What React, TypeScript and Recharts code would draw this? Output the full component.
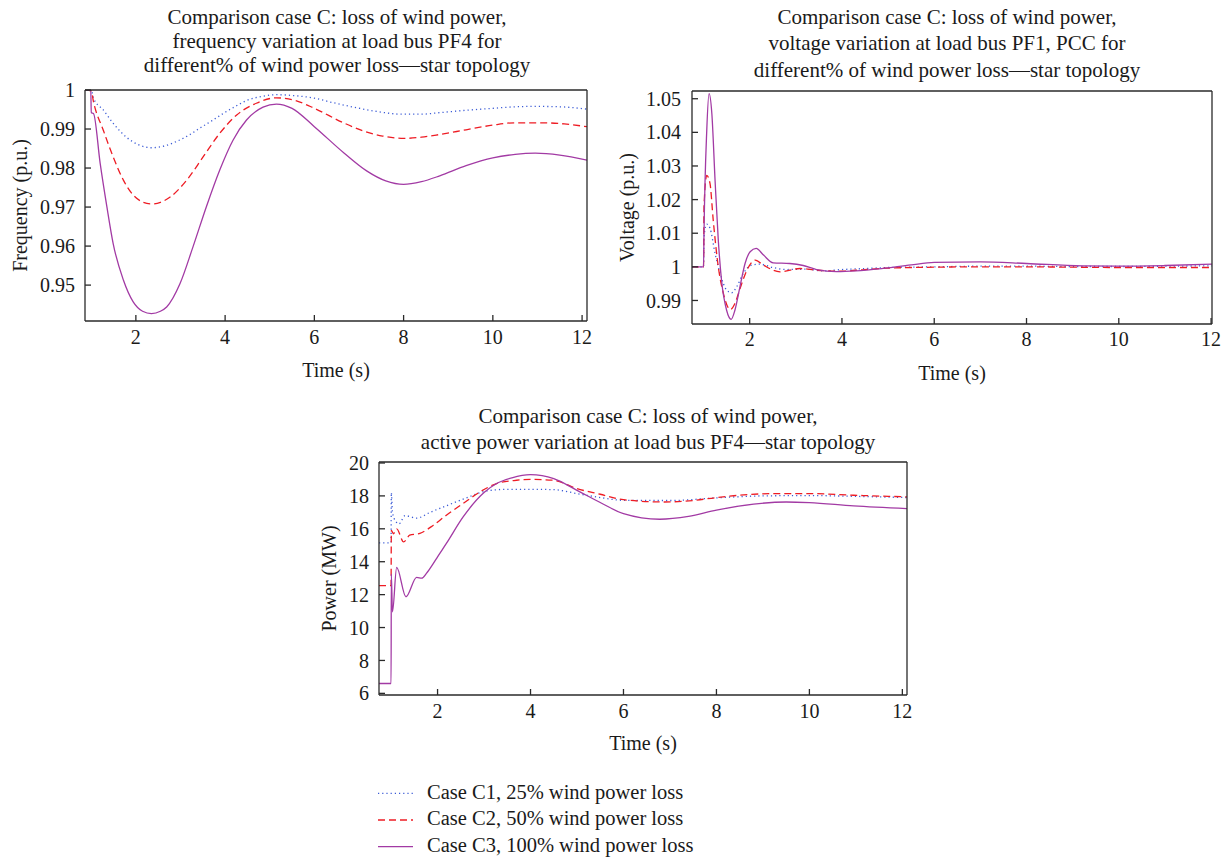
import { Line, LineChart, XAxis, YAxis } from 'recharts'

const FONT = "'Liberation Serif', 'Times New Roman', serif"
const INK = '#1a1a1a'
const AXIS = '#2a2a2a'

const timeTicks = [2, 4, 6, 8, 10, 12]
const freqTicks = [0.95, 0.96, 0.97, 0.98, 0.99, 1]
const voltTicks = [0.99, 1, 1.01, 1.02, 1.03, 1.04, 1.05]
const powerTicks = [6, 8, 10, 12, 14, 16, 18, 20]

const caseNames = ['Case C1, 25% wind power loss', 'Case C2, 50% wind power loss', 'Case C3, 100% wind power loss']
const caseColors = ['#3b5bd6', '#ee1c24', '#a23aa4']
const caseDash = ['1.2 3', '7 4', undefined]

// frequency at load bus PF4
const freqT1 = [0.86, 1.0, 1.05, 1.27, 1.49, 1.79, 2.05, 2.35, 2.65, 2.91, 3.2, 3.43, 3.7, 3.96, 4.2, 4.48, 4.8, 5.15, 5.5, 6.0, 6.4, 6.84, 7.4, 7.96, 8.4, 8.81, 9.4, 10.0, 10.5, 10.95, 11.5, 12.11]
const freqC1 = [1.0, 0.9999, 0.9979, 0.9949, 0.9915, 0.9879, 0.986, 0.9852, 0.9857, 0.9868, 0.9885, 0.9902, 0.9921, 0.994, 0.9956, 0.9973, 0.9983, 0.9988, 0.9986, 0.9979, 0.9968, 0.9957, 0.9945, 0.9938, 0.9938, 0.9942, 0.9948, 0.9953, 0.9957, 0.9958, 0.9957, 0.9951]
const freqT2 = [0.86, 1.0, 1.05, 1.27, 1.49, 1.72, 1.94, 2.15, 2.35, 2.55, 2.76, 3.14, 3.51, 3.88, 4.26, 4.7, 5.15, 5.6, 6.0, 6.67, 7.1, 7.53, 8.0, 8.4, 8.81, 9.4, 10.0, 10.5, 11.1, 11.6, 12.11]
const freqC2 = [1.0, 0.9998, 0.997, 0.9897, 0.9829, 0.9769, 0.9731, 0.9713, 0.9708, 0.9712, 0.9725, 0.9769, 0.9829, 0.9889, 0.9936, 0.9966, 0.998, 0.9972, 0.9953, 0.9915, 0.9895, 0.9882, 0.9876, 0.9879, 0.9886, 0.9898, 0.991, 0.9916, 0.9916, 0.9913, 0.9906]
const freqT3 = [0.86, 0.99, 1.0, 1.05, 1.2, 1.35, 1.49, 1.72, 1.94, 2.15, 2.35, 2.55, 2.69, 2.99, 3.28, 3.58, 3.88, 4.18, 4.48, 4.85, 5.15, 5.5, 6.0, 6.67, 7.18, 7.6, 8.0, 8.4, 8.81, 9.4, 10.0, 10.5, 10.95, 11.5, 12.11]
const freqC3 = [1.0, 1.0, 0.9942, 0.994, 0.9812, 0.9701, 0.9607, 0.9513, 0.9457, 0.9433, 0.9427, 0.9433, 0.9444, 0.9504, 0.9598, 0.9701, 0.9795, 0.9872, 0.9923, 0.9956, 0.9964, 0.9953, 0.9906, 0.9838, 0.9792, 0.9767, 0.9758, 0.9765, 0.978, 0.9806, 0.9826, 0.9835, 0.9838, 0.9833, 0.982]

// voltage at load bus PF1, PCC
const voltT1 = [0.75, 1.0, 1.01, 1.07, 1.14, 1.25, 1.36, 1.5, 1.61, 1.72, 1.86, 2.04, 2.22, 2.5, 2.8, 3.2, 3.6, 4.0, 4.5, 5.0, 6.0, 7.0, 8.0, 9.0, 10.0, 11.0, 12.02]
const voltC1 = [1.0, 1.0, 1.009, 1.0127, 1.0115, 1.004, 0.998, 0.9931, 0.9923, 0.9941, 0.998, 1.0005, 1.0008, 0.9998, 0.9992, 0.9993, 0.9988, 0.9992, 0.9995, 0.9998, 1.0, 1.0002, 1.0002, 1.0001, 1.0001, 1.0002, 1.0003]
const voltT2 = [0.75, 1.0, 1.01, 1.07, 1.14, 1.21, 1.32, 1.43, 1.58, 1.68, 1.79, 1.94, 2.12, 2.3, 2.66, 3.09, 3.45, 3.99, 4.5, 5.0, 6.0, 7.0, 8.0, 9.0, 10.0, 11.0, 12.02]
const voltC2 = [1.0, 1.0, 1.018, 1.0272, 1.0248, 1.0139, 1.0, 0.9921, 0.9873, 0.9891, 0.9935, 0.999, 1.002, 1.0005, 0.9985, 0.9995, 0.999, 0.9987, 0.9992, 0.9996, 0.9999, 1.0, 1.0, 0.9999, 0.9998, 0.9998, 0.9998]
const voltT3 = [0.75, 1.0, 1.01, 1.07, 1.12, 1.18, 1.25, 1.32, 1.39, 1.5, 1.6, 1.68, 1.79, 1.9, 2.01, 2.14, 2.3, 2.51, 2.87, 3.16, 3.45, 3.88, 4.3, 4.86, 5.5, 6.0, 7.0, 8.0, 9.2, 10.0, 11.0, 12.02]
const voltC3 = [1.0, 1.0, 1.0099, 1.0406, 1.0515, 1.0456, 1.0257, 1.0079, 0.996, 0.9871, 0.9844, 0.9871, 0.9941, 1.001, 1.0045, 1.0055, 1.0035, 1.0012, 1.001, 1.0004, 0.9992, 0.9986, 0.9988, 0.9995, 1.0006, 1.0013, 1.0015, 1.001, 1.0003, 1.0002, 1.0004, 1.0008]

// active power at load bus PF4
const powT1 = [0.74, 1.0, 1.005, 1.03, 1.1, 1.17, 1.3, 1.55, 1.84, 2.19, 2.55, 3.06, 3.5, 4.0, 4.5, 5.0, 5.5, 6.0, 7.0, 8.0, 9.0, 10.0, 11.0, 12.1]
const powC1 = [15.15, 15.15, 18.2, 17.0, 16.45, 16.3, 16.8, 16.65, 17.0, 17.4, 17.8, 18.3, 18.4, 18.4, 18.38, 18.14, 17.9, 17.73, 17.72, 17.88, 18.0, 18.02, 17.97, 17.9]
const powT2 = [0.74, 1.0, 1.005, 1.05, 1.12, 1.27, 1.4, 1.62, 1.91, 2.19, 2.55, 2.91, 3.27, 3.7, 4.0, 4.49, 5.0, 5.5, 6.0, 6.87, 7.5, 8.0, 9.25, 10.0, 10.95, 12.1]
const powC2 = [12.55, 12.55, 15.9, 15.7, 16.0, 15.2, 15.61, 15.72, 16.22, 16.83, 17.54, 18.24, 18.75, 18.95, 19.0, 18.95, 18.44, 18.1, 17.77, 17.63, 17.72, 17.9, 18.14, 18.14, 18.04, 17.94]
const powT3 = [0.74, 1.0, 1.005, 1.03, 1.12, 1.32, 1.55, 1.66, 1.76, 1.91, 2.0, 2.19, 2.55, 3.0, 3.27, 3.6, 4.0, 4.5, 5.0, 5.5, 6.0, 6.78, 7.4, 8.0, 8.8, 9.5, 10.0, 10.95, 12.1]
const powC3 = [6.6, 6.6, 13.25, 10.96, 13.65, 11.87, 13.05, 13.0, 13.29, 13.9, 14.3, 15.11, 16.72, 18.2, 18.75, 19.1, 19.29, 19.05, 18.34, 17.6, 16.92, 16.58, 16.75, 17.13, 17.5, 17.63, 17.59, 17.39, 17.23]

const zip = (t: number[], v: number[]) => t.map((x, i) => ({ t: x, v: v[i] }))

type PanelProps = {
  left: number
  top: number
  width: number
  height: number
  margin: { top: number; right: number; bottom: number; left: number }
  yWidth: number
  xHeight: number
  xDomain: [number, number]
  yDomain: [number, number]
  yTicks: number[]
  xTickMargin: number
  yTickMargin: number
  yLabel: string
  yLabelOffset: number
  xLabelOffset: number
  series: { t: number[]; v: number[] }[]
}

const textStyle = { fill: INK, fontSize: 20, fontFamily: FONT }

function Panel(p: PanelProps) {
  return (
    <div style={{ position: 'absolute', left: p.left, top: p.top }}>
      <LineChart width={p.width} height={p.height} margin={p.margin}>
        <XAxis
          xAxisId="b"
          type="number"
          dataKey="t"
          domain={p.xDomain}
          allowDataOverflow
          ticks={timeTicks}
          interval={0}
          tickSize={-6}
          tickMargin={p.xTickMargin}
          height={p.xHeight}
          stroke={AXIS}
          strokeWidth={1.3}
          tick={textStyle}
          label={{ value: 'Time (s)', position: 'insideBottom', offset: p.xLabelOffset, ...textStyle }}
        />
        <XAxis
          xAxisId="t"
          orientation="top"
          type="number"
          dataKey="t"
          domain={p.xDomain}
          allowDataOverflow
          ticks={timeTicks}
          interval={0}
          tickSize={-6}
          tick={false}
          height={1}
          stroke={AXIS}
          strokeWidth={1.3}
        />
        <YAxis
          yAxisId="l"
          type="number"
          domain={p.yDomain}
          allowDataOverflow
          ticks={p.yTicks}
          interval={0}
          tickSize={-6}
          tickMargin={p.yTickMargin}
          width={p.yWidth}
          stroke={AXIS}
          strokeWidth={1.3}
          tick={textStyle}
          label={{
            value: p.yLabel,
            angle: -90,
            position: 'insideLeft',
            offset: p.yLabelOffset,
            style: { textAnchor: 'middle' },
            ...textStyle,
          }}
        />
        <YAxis
          yAxisId="r"
          orientation="right"
          type="number"
          domain={p.yDomain}
          allowDataOverflow
          ticks={p.yTicks}
          interval={0}
          tickSize={-6}
          tick={false}
          width={1}
          stroke={AXIS}
          strokeWidth={1.3}
        />
        {p.series.map((s, i) => (
          <Line
            key={caseNames[i]}
            xAxisId="b"
            yAxisId="l"
            data={zip(s.t, s.v)}
            dataKey="v"
            type="monotone"
            stroke={caseColors[i]}
            strokeWidth={1.3}
            strokeDasharray={caseDash[i]}
            dot={false}
            activeDot={false}
            isAnimationActive={false}
          />
        ))}
      </LineChart>
    </div>
  )
}

function Title({ lines, center, top, lineHeight }: { lines: string[]; center: number; top: number; lineHeight: number }) {
  return (
    <div
      style={{
        position: 'absolute',
        left: center - 300,
        width: 600,
        top,
        textAlign: 'center',
        fontFamily: FONT,
        fontSize: 21,
        lineHeight: `${lineHeight}px`,
        color: INK,
        whiteSpace: 'nowrap',
      }}
    >
      {lines.map((l) => (
        <div key={l}>{l}</div>
      ))}
    </div>
  )
}

export default function App() {
  return (
    <div style={{ position: 'absolute', left: 0, top: 0, width: 1231, height: 865, background: '#fff' }}>
      <Panel
        left={0}
        top={0}
        width={600}
        height={390}
        margin={{ top: 89, right: 12, bottom: 0, left: 0 }}
        yWidth={85}
        xHeight={69}
        xDomain={[0.86, 12.11]}
        yDomain={[0.9408, 1.0]}
        yTicks={freqTicks}
        xTickMargin={15}
        yTickMargin={16}
        yLabel="Frequency (p.u.)"
        yLabelOffset={20}
        xLabelOffset={13}
        series={[
          { t: freqT1, v: freqC1 },
          { t: freqT2, v: freqC2 },
          { t: freqT3, v: freqC3 },
        ]}
      />
      <Panel
        left={600}
        top={0}
        width={631}
        height={390}
        margin={{ top: 90, right: 18, bottom: 0, left: 0 }}
        yWidth={92}
        xHeight={66}
        xDomain={[0.75, 12.02]}
        yDomain={[0.983, 1.0523]}
        yTicks={voltTicks}
        xTickMargin={14}
        yTickMargin={17}
        yLabel="Voltage (p.u.)"
        yLabelOffset={27}
        xLabelOffset={10}
        series={[
          { t: voltT1, v: voltC1 },
          { t: voltT2, v: voltC2 },
          { t: voltT3, v: voltC3 },
        ]}
      />
      <Panel
        left={300}
        top={400}
        width={620}
        height={365}
        margin={{ top: 61, right: 12, bottom: 0, left: 0 }}
        yWidth={79}
        xHeight={70}
        xDomain={[0.74, 12.1]}
        yDomain={[5.9, 20.06]}
        yTicks={powerTicks}
        xTickMargin={15}
        yTickMargin={16}
        yLabel="Power (MW)"
        yLabelOffset={29}
        xLabelOffset={15}
        series={[
          { t: powT1, v: powC1 },
          { t: powT2, v: powC2 },
          { t: powT3, v: powC3 },
        ]}
      />
      <Title
        center={337}
        top={4.5}
        lineHeight={24.4}
        lines={[
          'Comparison case C: loss of wind power,',
          'frequency variation at load bus PF4 for',
          'different% of wind power loss\u2014star topology',
        ]}
      />
      <Title
        center={947}
        top={3.5}
        lineHeight={26.6}
        lines={[
          'Comparison case C: loss of wind power,',
          'voltage variation at load bus PF1, PCC for',
          'different% of wind power loss\u2014star topology',
        ]}
      />
      <Title
        center={648}
        top={404}
        lineHeight={25.7}
        lines={['Comparison case C: loss of wind power,', 'active power variation at load bus PF4\u2014star topology']}
      />
      <svg
        width={400}
        height={90}
        style={{ position: 'absolute', left: 360, top: 775, fontFamily: FONT, fontSize: 20.5 }}
      >
        {caseNames.map((name, i) => (
          <g key={name}>
            <line
              x1={18}
              x2={53}
              y1={18.3 + i * 26.7}
              y2={18.3 + i * 26.7}
              stroke={caseColors[i]}
              strokeWidth={1.3}
              strokeDasharray={caseDash[i]}
            />
            <text x={67} y={23.5 + i * 26.7} fill={INK}>
              {name}
            </text>
          </g>
        ))}
      </svg>
    </div>
  )
}
